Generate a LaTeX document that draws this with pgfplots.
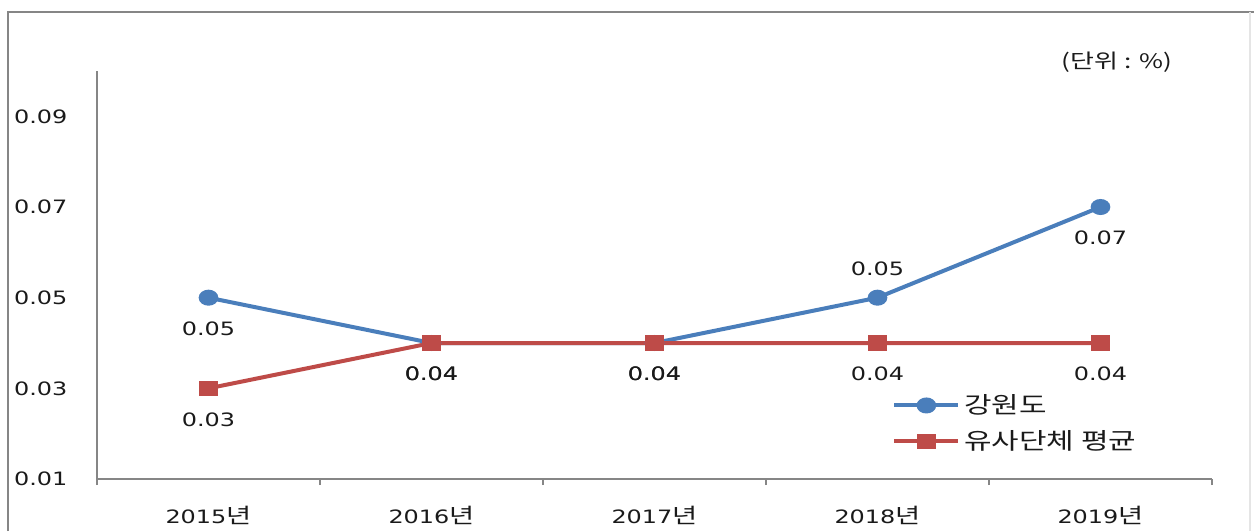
\documentclass[border=0pt]{standalone}
\usepackage{fontspec}
\setmainfont{DejaVu Sans}[FakeStretch=1.3]
\newfontfamily\kr{Noto Sans CJK KR}[FakeStretch=1.3]
\usepackage{pgfplots}
\pgfplotsset{compat=1.18}
\usepackage{pgfplotstable}
\definecolor{sblue}{HTML}{4A7EBB}
\definecolor{sred}{HTML}{BE4B48}
\definecolor{axgray}{HTML}{868686}
\definecolor{txt}{HTML}{1A1A1A}

\pgfplotstableread{
x y lab off
0 0.05 0.05 -15.5
1 0.04 0.04 -15.5
2 0.04 0.04 -15.5
3 0.05 0.05 14.5
4 0.07 0.07 -15.5
}\gangwon
\pgfplotstableread{
x y lab off
0 0.03 0.03 -15.5
1 0.04 0.04 -15.5
2 0.04 0.04 -15.5
3 0.04 0.04 -15.5
4 0.04 0.04 -15.5
}\avg

\begin{document}
\begin{tikzpicture}
\useasboundingbox (0,0) rectangle (627pt,265.5pt);
\draw[axgray, line width=1pt] (4pt,0) -- (4pt,259.5pt) -- (627pt,259.5pt);
\draw[gray!20, line width=0.8pt] (625pt,0) -- (625pt,259.5pt);
\node[font=\kr\fontsize{10}{12}\selectfont, text=txt] at (558.5pt,234.5pt) {(단위 : \%)};
\begin{axis}[
  at={(48.5pt,26pt)}, anchor=south west,
  width=557.5pt, height=204pt, scale only axis,
  xmin=-0.5, xmax=4.5, ymin=0.01, ymax=0.1,
  axis x line*=bottom, axis y line*=left,
  axis line style={axgray, line width=0.75pt, -},
  major tick length=0pt,
  xtick={0,1,2,3,4},
  xticklabels={2015{\kr\fontsize{10.5}{11}\selectfont 년},2016{\kr\fontsize{10.5}{11}\selectfont 년},2017{\kr\fontsize{10.5}{11}\selectfont 년},2018{\kr\fontsize{10.5}{11}\selectfont 년},2019{\kr\fontsize{10.5}{11}\selectfont 년}},
  ytick={0.01,0.03,0.05,0.07,0.09},
  yticklabels={0.01,0.03,0.05,0.07,0.09},
  extra x ticks={-0.5,0.5,1.5,2.5,3.5,4.5},
  extra x tick labels={},
  extra x tick style={major tick length=3pt, tick align=outside, tick style={axgray, line width=0.75pt}},
  tick label style={font=\fontsize{9.2}{10}\selectfont, text=txt},
  yticklabel style={anchor=west, xshift=-45pt},
  xticklabel style={yshift=-10pt},
  clip=false,
  legend style={draw=none, fill=none, at={(0.713,0.218)}, anchor=north west, inner sep=0pt,
    font=\kr\fontsize{11.5}{13}\selectfont, text=txt, row sep=3pt},
  legend cell align=left,
  legend image code/.code={\draw[mark repeat=2,mark phase=2,#1] plot coordinates {(0pt,0pt) (16pt,0pt) (32pt,0pt)};},
  nodes near coords={\pgfplotspointmeta},
  point meta=explicit symbolic,
  visualization depends on={\thisrow{off}\as\myoff},
  every node near coord/.append style={font=\fontsize{9.2}{10}\selectfont, text=txt, anchor=center, yshift=\myoff pt},
]
\addplot[sblue, line width=2pt, mark=*, mark size=3pt, mark options={xscale=1.3, solid}]
  table[x=x, y=y, meta=lab]{\gangwon};
\addlegendentry{강원도}
\addplot[sred, line width=2pt, mark=square*, mark size=2.8pt, mark options={xscale=1.35, solid}]
  table[x=x, y=y, meta=lab]{\avg};
\addlegendentry{유사단체 평균}
\end{axis}
\end{tikzpicture}
\end{document}
